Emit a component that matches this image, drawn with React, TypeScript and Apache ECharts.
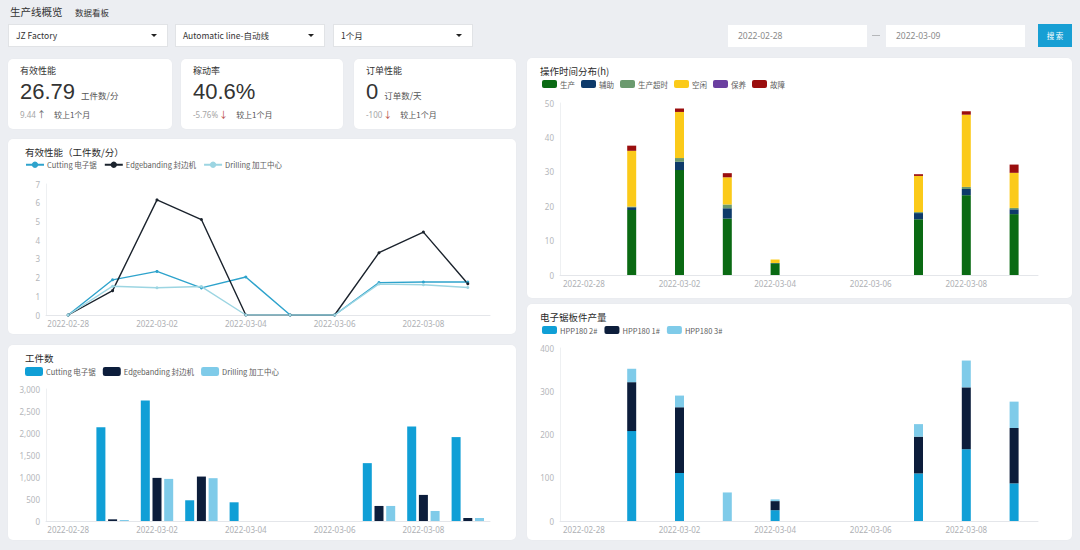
import React, { useEffect, useRef } from "react";
import * as echarts from "echarts";

const dates = [
  "2022-02-28", "2022-03-01", "2022-03-02", "2022-03-03", "2022-03-04",
  "2022-03-05", "2022-03-06", "2022-03-07", "2022-03-08", "2022-03-09",
];

// 有效性能（工件数/分）
const perfCutting = [0, 1.88, 2.33, 1.45, 2.03, 0, 0, 1.73, 1.76, 1.76];
const perfEdgebanding = [0, 1.3, 6.15, 5.1, 0, 0, 0, 3.33, 4.43, 1.67];
const perfDrilling = [0, 1.54, 1.46, 1.52, 0, 0, 0, 1.66, 1.62, 1.47];

// 工件数
const cntCutting = [0, 2128, 2736, 471, 425, 0, 0, 1315, 2150, 1907];
const cntEdgebanding = [0, 38, 980, 1010, 0, 0, 0, 342, 593, 68];
const cntDrilling = [0, 23, 957, 973, 0, 0, 0, 342, 228, 68];

// 操作时间分布(h)
const tProduction = [0, 18.9, 30.5, 16.4, 3.4, 0, 0, 16.2, 23.2, 17.7];
const tAuxiliary = [0, 0.8, 2.4, 3.0, 0.1, 0, 0, 1.8, 1.8, 1.4];
const tOvertime = [0, 0.2, 1.1, 1.1, 0, 0, 0, 0.3, 0.6, 0.4];
const tIdle = [0, 16.2, 13.4, 7.9, 1.0, 0, 0, 10.5, 21.0, 10.2];
const tMaintenance = [0, 0, 0, 0, 0, 0, 0, 0, 0, 0];
const tFault = [0, 1.5, 1.0, 1.2, 0, 0, 0, 0.5, 1.0, 2.4];

// 电子锯板件产量
const sawHpp2 = [0, 208, 111, 0, 25, 0, 0, 110, 166, 87];
const sawHpp1 = [0, 113, 152, 0, 21, 0, 0, 85, 143, 128];
const sawHpp3 = [0, 31, 27, 66, 4, 0, 0, 29, 62, 61];

const FONT = "'Noto Sans', 'Noto Sans CJK SC', sans-serif";
const CJK = "'Noto Sans CJK SC', 'Noto Sans', sans-serif";

const C_BLUE = "#109fd6";
const C_NAVY = "#0c1d3b";
const C_LIGHT = "#7fcbe9";

function Chart({ option, style }: { option: any; style: React.CSSProperties }) {
  const ref = useRef<HTMLDivElement>(null);
  useEffect(() => {
    const c = echarts.init(ref.current!, undefined, { renderer: "svg" });
    c.setOption(option);
    return () => c.dispose();
  }, []);
  return <div ref={ref} style={style} />;
}

function xAxis() {
  return {
    type: "category",
    data: dates,
    boundaryGap: true,
    axisTick: { show: false },
    axisLine: { lineStyle: { color: "#e4e6ea" } },
    axisLabel: { interval: 1, color: "#aeb0b4", fontSize: 8, margin: 4, fontFamily: FONT },
  };
}

function yAxis(max: number, interval: number, fmt?: (v: number) => string) {
  return {
    type: "value",
    min: 0,
    max,
    interval,
    splitLine: { show: false },
    axisLine: { show: true, lineStyle: { color: "#eef0f2" } },
    axisTick: { show: false },
    axisLabel: { color: "#b4b6ba", fontSize: 8, margin: 6, fontFamily: FONT, formatter: fmt },
  };
}

function title(text: string, left: number) {
  return {
    text,
    left,
    top: 3,
    textStyle: { fontSize: 9.5, fontWeight: "normal", color: "#2b2b2b", fontFamily: CJK },
  };
}

function legend(left: number, w: number, h: number, icon?: string) {
  return {
    left,
    top: 17,
    itemWidth: w,
    itemHeight: h,
    itemGap: 7,
    icon,
    textStyle: { fontSize: 7.5, color: "#5c5c5c", fontFamily: CJK, padding: [0, 0, 0, -2] },
  };
}

const lineOption = {
  animation: false,
  title: title("有效性能（工件数/分）", 12),
  legend: legend(12, 18, 8),
  grid: { left: 38, right: 26, top: 45, bottom: 19 },
  xAxis: xAxis(),
  yAxis: yAxis(7, 1),
  series: [
    { name: "Cutting 电子锯", type: "line", data: perfCutting, color: "#2ea3cc", symbol: "circle", symbolSize: 3, lineStyle: { width: 1.4 } },
    { name: "Edgebanding 封边机", type: "line", data: perfEdgebanding, color: "#1b232d", symbol: "circle", symbolSize: 3, lineStyle: { width: 1.4 } },
    { name: "Drilling 加工中心", type: "line", data: perfDrilling, color: "#9cd5e2", symbol: "circle", symbolSize: 3, lineStyle: { width: 1.4 } },
  ],
};

const countOption = {
  animation: false,
  title: title("工件数", 12),
  legend: legend(12, 18, 9, "roundRect"),
  grid: { left: 38, right: 26, top: 44, bottom: 19 },
  xAxis: xAxis(),
  yAxis: yAxis(3000, 500, (v: number) => v.toLocaleString("en-US")),
  series: [
    { name: "Cutting 电子锯", type: "bar", data: cntCutting, color: C_BLUE, barWidth: 9, barGap: "30%" },
    { name: "Edgebanding 封边机", type: "bar", data: cntEdgebanding, color: C_NAVY, barWidth: 9, barGap: "30%" },
    { name: "Drilling 加工中心", type: "bar", data: cntDrilling, color: C_LIGHT, barWidth: 9, barGap: "30%" },
  ],
};

function stackBar(name: string, data: number[], color: string) {
  return { name, type: "bar", stack: "t", data, color, barWidth: 9 };
}

const timeOption = {
  animation: false,
  title: title("操作时间分布(h)", 8),
  legend: { ...legend(10, 15, 8, "roundRect"), itemGap: 6 },
  grid: { left: 33, right: 34, top: 45, bottom: 23 },
  xAxis: xAxis(),
  yAxis: yAxis(50, 10),
  series: [
    stackBar("生产", tProduction, "#0a6a13"),
    stackBar("辅助", tAuxiliary, "#0d3a6a"),
    stackBar("生产超时", tOvertime, "#6b9a6e"),
    stackBar("空闲", tIdle, "#fbca19"),
    stackBar("保养", tMaintenance, "#6b3fa0"),
    stackBar("故障", tFault, "#9a0e0e"),
  ],
};

const sawOption = {
  animation: false,
  title: title("电子锯板件产量", 8),
  legend: legend(10, 15, 8, "roundRect"),
  grid: { left: 33, right: 34, top: 44, bottom: 19 },
  xAxis: xAxis(),
  yAxis: yAxis(400, 100),
  series: [
    stackBar("HPP180 2#", sawHpp2, C_BLUE),
    stackBar("HPP180 1#", sawHpp1, C_NAVY),
    stackBar("HPP180 3#", sawHpp3, C_LIGHT),
  ],
};

const card: React.CSSProperties = {
  position: "absolute",
  background: "#ffffff",
  borderRadius: 5,
  boxShadow: "0 0 2px rgba(0,0,0,0.03)",
};

function Select({ x, w, text }: { x: number; w: number; text: string }) {
  return (
    <div
      style={{
        position: "absolute", left: x, top: 24, width: w, height: 23, background: "#fff",
        border: "1px solid #e1e3e6", boxSizing: "border-box", fontFamily: CJK, fontSize: 8.5,
        color: "#333", lineHeight: "21px", paddingLeft: 7,
      }}
    >
      {text}
      <div
        style={{
          position: "absolute", right: 10, top: 9, width: 0, height: 0,
          borderLeft: "3px solid transparent", borderRight: "3px solid transparent",
          borderTop: "3.5px solid #222",
        }}
      />
    </div>
  );
}

function DateBox({ x, text }: { x: number; text: string }) {
  return (
    <div
      style={{
        position: "absolute", left: x, top: 25, width: 139, height: 22, background: "#fff",
        boxSizing: "border-box", fontFamily: FONT, fontSize: 8.5, color: "#8a8a8a",
        lineHeight: "22px", paddingLeft: 10,
      }}
    >
      {text}
    </div>
  );
}

function Kpi({ x, w, label, value, unit, delta, arrow, arrowColor }: any) {
  return (
    <div style={{ ...card, left: x, top: 59, width: w, height: 70 }}>
      <div style={{ position: "absolute", left: 12, top: 5, fontFamily: CJK, fontSize: 9, color: "#333" }}>{label}</div>
      <div style={{ position: "absolute", left: 12, top: 20, display: "flex", alignItems: "baseline", whiteSpace: "nowrap" }}>
        <span style={{ fontFamily: "'Liberation Sans', Arial, sans-serif", fontSize: 22, color: "#333" }}>{value}</span>
        <span style={{ fontFamily: CJK, fontSize: 8.5, color: "#555", marginLeft: 6 }}>{unit}</span>
      </div>
      <div style={{ position: "absolute", left: 12, top: 49, fontFamily: CJK, fontSize: 8, color: "#555", whiteSpace: "nowrap" }}>
        <span style={{ color: "#a5a5a5", fontFamily: FONT }}>{delta}</span>
        <span style={{ color: arrowColor, fontSize: 9, marginLeft: 1 }}>{arrow}</span>
        <span style={{ marginLeft: 8 }}>较上1个月</span>
      </div>
    </div>
  );
}

export default function App() {
  return (
    <div
      style={{
        position: "fixed", left: 0, top: 0, width: 1080, height: 550,
        background: "#eceef2", overflow: "hidden",
      }}
    >
      <div style={{ position: "absolute", left: 10, top: 4, fontFamily: CJK, fontSize: 10.5, color: "#333" }}>生产线概览</div>
      <div style={{ position: "absolute", left: 75, top: 6, fontFamily: CJK, fontSize: 8.5, color: "#333" }}>数据看板</div>

      <Select x={8} w={160} text="JZ Factory" />
      <Select x={175} w={150} text="Automatic line-自动线" />
      <Select x={333} w={140} text="1个月" />

      <DateBox x={728} text="2022-02-28" />
      <div style={{ position: "absolute", left: 872, top: 35, width: 8, height: 1, background: "#b5b7ba" }} />
      <DateBox x={886} text="2022-03-09" />
      <div
        style={{
          position: "absolute", left: 1038, top: 24, width: 34, height: 23, background: "#179fd4",
          color: "#fff", fontFamily: CJK, fontSize: 7.5, textAlign: "center", lineHeight: "23px",
        }}
      >
        搜 索
      </div>

      <Kpi x={8} w={164} label="有效性能" value="26.79" unit="工件数/分" delta="9.44" arrow="↑" arrowColor="#666" />
      <Kpi x={181} w={162} label="稼动率" value="40.6%" unit="" delta="-5.76%" arrow="↓" arrowColor="#b4463c" />
      <Kpi x={354} w={162} label="订单性能" value="0" unit="订单数/天" delta="-100" arrow="↓" arrowColor="#b4463c" />

      <div style={{ ...card, left: 8, top: 139, width: 508, height: 195 }}>
        <Chart option={lineOption} style={{ width: 508, height: 195 }} />
      </div>
      <div style={{ ...card, left: 8, top: 345, width: 508, height: 195 }}>
        <Chart option={countOption} style={{ width: 508, height: 195 }} />
      </div>
      <div style={{ ...card, left: 527, top: 58, width: 545, height: 240 }}>
        <Chart option={timeOption} style={{ width: 545, height: 240 }} />
      </div>
      <div style={{ ...card, left: 527, top: 304, width: 545, height: 236 }}>
        <Chart option={sawOption} style={{ width: 545, height: 236 }} />
      </div>
    </div>
  );
}
